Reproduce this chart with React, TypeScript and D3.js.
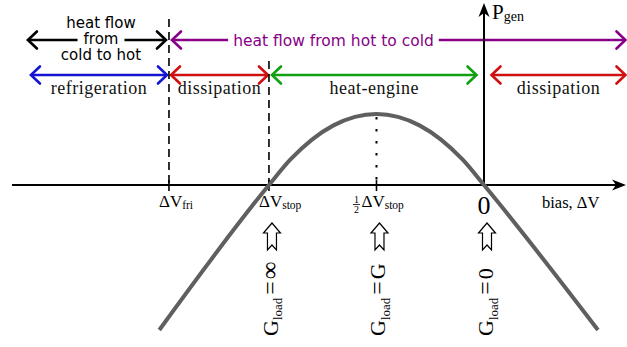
import React, { useLayoutEffect, useRef, useState } from "react";
import * as d3 from "d3";

const W = 627;
const H = 347;

// Generated power versus bias, sampled along the P_gen(ΔV) curve
const biasValues = [-1.51, -1.0, -0.9, -0.8, -0.7, -0.6, -0.5, -0.4, -0.3, -0.2, -0.1, 0, 0.53];
const powerValues = [-2.04, 0, 0.36, 0.64, 0.84, 0.96, 1.0, 0.96, 0.84, 0.64, 0.36, 0, -2.04];

// Characteristic biases
const vFri = -1.465;
const vStop = -1;
const vHalfStop = -0.5;
const vZero = 0;

// Operating regimes along the bias axis
const regimeLabels = ["refrigeration", "dissipation", "heat-engine", "dissipation"];
const regimeStarts = [-2.107, vFri, vStop, vZero];
const regimeEnds = [vFri, vStop, vZero, 0.658];

// Direction of the heat flow
const flowLabels = [["heat flow", "from", "cold to hot"], ["heat flow from hot to cold"]];
const flowStarts = [-2.121, vFri];
const flowEnds = [vFri, 0.658];

// Load conductance at the marked operating points
const loadBiases = [vStop, vHalfStop, vZero];
const loadValues = ["∞", "G", "0"];

const regimeColors = ["#1414d2", "#d01010", "#10a010", "#d01010"];
const flowColors = ["#000000", "#880088"];

const SERIF = "'Liberation Serif', 'Times New Roman', serif";
const SANS = "'DejaVu Sans', sans-serif";

const x = d3.scaleLinear().domain([-2.195, 0.665]).range([12, 627]);
const y = d3.scaleLinear().domain([-2.04, 1]).range([330, 114]);

const curvePath = d3
  .line<number>()
  .x((_, i) => x(biasValues[i]))
  .y((_, i) => y(powerValues[i]))
  .curve(d3.curveMonotoneX)(biasValues) as string;

// Open chevron arrow tips at both ends of a horizontal segment
function DoubleArrow({ x0, x1, yy, color }: { x0: number; x1: number; yy: number; color: string }) {
  const L = 9;
  const h = 8.5;
  return (
    <g stroke={color} strokeWidth={2.6} fill="none" strokeLinecap="round" strokeLinejoin="miter">
      <line x1={x0 + 1} x2={x1 - 1} y1={yy} y2={yy} />
      <path d={`M${x0 + L},${yy - h} L${x0},${yy} L${x0 + L},${yy + h}`} />
      <path d={`M${x1 - L},${yy - h} L${x1},${yy} L${x1 - L},${yy + h}`} />
    </g>
  );
}

// Text drawn over a white patch so that a line behind it is interrupted
function KnockoutText({ tx, ty, pad, children, ...rest }: any) {
  const ref = useRef<SVGTextElement>(null);
  const [box, setBox] = useState<{ x: number; y: number; w: number; h: number } | null>(null);
  useLayoutEffect(() => {
    if (ref.current) {
      const b = ref.current.getBBox();
      setBox({ x: b.x, y: b.y, w: b.width, h: b.height });
    }
  }, []);
  return (
    <g>
      {box && <rect x={box.x - pad} y={box.y} width={box.w + 2 * pad} height={box.h} fill="white" />}
      <text ref={ref} x={tx} y={ty} {...rest}>
        {children}
      </text>
    </g>
  );
}

function HollowUpArrow({ cx, top }: { cx: number; top: number }) {
  const d = [
    [cx, top],
    [cx + 8.5, top + 10],
    [cx + 4.5, top + 10],
    [cx + 4.5, top + 27],
    [cx, top + 22],
    [cx - 4.5, top + 27],
    [cx - 4.5, top + 10],
    [cx - 8.5, top + 10],
  ];
  return <path d={"M" + d.map((p) => p.join(",")).join("L") + "Z"} fill="white" stroke="black" strokeWidth={1.2} strokeLinejoin="miter" />;
}

export default function App() {
  const y0 = y(0);
  const xZero = x(vZero);
  const topRow = 40;
  const regimeRow = 75;
  const axisRight = 626;
  const axisTop = 3;

  const regimeInset = (v: number, side: number) => (v === vZero ? 7.5 : v === vStop ? (side < 0 ? 1 : 3) : 2);

  return (
    <svg width={W} height={H} style={{ position: "absolute", left: 0, top: 0, background: "white" }}>
      {/* heat flow row */}
      {flowLabels.map((lab, i) => {
        const a = x(flowStarts[i]) + (i === 0 ? 0 : 3);
        const b = x(flowEnds[i]) - (i === 0 ? 3 : 0);
        return <DoubleArrow key={"f" + i} x0={a} x1={b} yy={topRow} color={flowColors[i]} />;
      })}
      <text x={101} y={28} textAnchor="middle" fontFamily={SANS} fontSize={15} fill={flowColors[0]}>
        {flowLabels[0][0]}
      </text>
      <KnockoutText tx={101} ty={44} pad={6} textAnchor="middle" fontFamily={SANS} fontSize={15} fill={flowColors[0]}>
        {flowLabels[0][1]}
      </KnockoutText>
      <text x={101} y={59.5} textAnchor="middle" fontFamily={SANS} fontSize={15} fill={flowColors[0]}>
        {flowLabels[0][2]}
      </text>
      <KnockoutText tx={x(-0.7)} ty={45.5} pad={5} textAnchor="middle" fontFamily={SANS} fontSize={15.5} fill={flowColors[1]}>
        {flowLabels[1][0]}
      </KnockoutText>

      {/* regime row */}
      {regimeLabels.map((lab, i) => {
        const a = x(regimeStarts[i]) + (i === 0 ? 0 : regimeInset(regimeStarts[i], 1));
        const b = x(regimeEnds[i]) - (i === regimeLabels.length - 1 ? 0 : regimeInset(regimeEnds[i], -1));
        return (
          <g key={"r" + i}>
            <DoubleArrow x0={a} x1={b} yy={regimeRow} color={regimeColors[i]} />
            <text x={(a + b) / 2} y={94} textAnchor="middle" fontFamily={SERIF} fontSize={18} letterSpacing={0.5} fill="#111">
              {lab}
            </text>
          </g>
        );
      })}

      {/* boundary guides */}
      <line x1={x(vFri)} x2={x(vFri)} y1={19} y2={y0} stroke="black" strokeWidth={1.6} strokeDasharray="8 5" />
      <line x1={x(vStop)} x2={x(vStop)} y1={61} y2={y0} stroke="black" strokeWidth={1.6} strokeDasharray="8 5" />
      <line x1={x(vHalfStop)} x2={x(vHalfStop)} y1={y(1) + 3} y2={y0} stroke="black" strokeWidth={2} strokeDasharray="2.5 9.5" />

      {/* axes */}
      <line x1={x(-2.195)} x2={axisRight - 8} y1={y0} y2={y0} stroke="black" strokeWidth={2} />
      <path d={`M${axisRight},${y0} L${axisRight - 14},${y0 - 5.5} L${axisRight - 10},${y0} L${axisRight - 14},${y0 + 5.5} Z`} fill="black" />
      <line x1={xZero} x2={xZero} y1={y0} y2={axisTop + 8} stroke="black" strokeWidth={2} />
      <path d={`M${xZero},${axisTop} L${xZero - 5.5},${axisTop + 14} L${xZero},${axisTop + 10} L${xZero + 5.5},${axisTop + 14} Z`} fill="black" />
      {[vFri, vStop, vHalfStop].map((v) => (
        <line key={v} x1={x(v)} x2={x(v)} y1={y0 - 5} y2={y0 + 6} stroke="black" strokeWidth={1.6} />
      ))}

      {/* P_gen curve */}
      <path d={curvePath} fill="none" stroke="#5f5f5f" strokeWidth={4} />

      {/* axis titles */}
      <text x={xZero + 8} y={19} fontFamily={SERIF} fontSize={21}>
        P<tspan fontSize={14} dy={2}>gen</tspan>
      </text>
      <text x={542} y={208} fontFamily={SERIF} fontSize={16.5}>
        bias, ΔV
      </text>

      {/* bias markers */}
      <text x={x(vFri) - 10} y={207} fontFamily={SERIF} fontSize={17}>
        ΔV<tspan fontSize={11.5} dy={2}>fri</tspan>
      </text>
      <text x={x(vStop) - 10} y={207} fontFamily={SERIF} fontSize={17}>
        ΔV<tspan fontSize={11.5} dy={2}>stop</tspan>
      </text>
      <g>
        <text x={x(vHalfStop) - 20} y={202.5} textAnchor="middle" fontFamily={SERIF} fontSize={10}>1</text>
        <line x1={x(vHalfStop) - 23.5} x2={x(vHalfStop) - 16.5} y1={204.5} y2={204.5} stroke="black" strokeWidth={0.8} />
        <text x={x(vHalfStop) - 20} y={213} textAnchor="middle" fontFamily={SERIF} fontSize={10}>2</text>
        <text x={x(vHalfStop) - 15} y={207} fontFamily={SERIF} fontSize={17}>
          ΔV<tspan fontSize={11.5} dy={2}>stop</tspan>
        </text>
      </g>
      <text x={xZero} y={214} textAnchor="middle" fontFamily={SERIF} fontSize={26}>
        0
      </text>

      {/* load conductance annotations */}
      {loadBiases.map((v, i) => {
        const cx = x(v) + 3;
        return (
          <g key={"l" + i}>
            <HollowUpArrow cx={cx} top={223} />
            <text transform={`translate(${cx + 6},${336}) rotate(-90)`} fontFamily={SERIF} fontSize={22}>
              G<tspan fontSize={13} dy={4.5}>load</tspan>
              <tspan dy={-4.5} dx={3} fontSize={24}>=</tspan>
              <tspan dx={2} fontSize={loadValues[i] === "∞" ? 25 : 22}>{loadValues[i]}</tspan>
            </text>
          </g>
        );
      })}
    </svg>
  );
}
